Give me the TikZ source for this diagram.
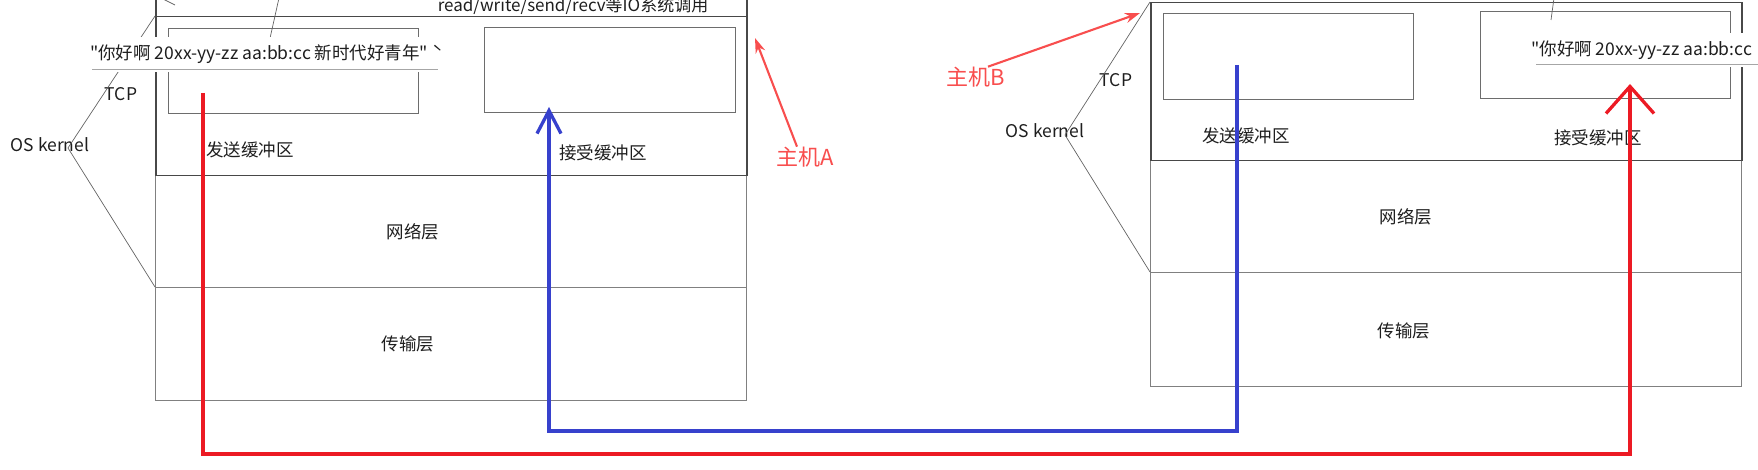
\documentclass[tikz,border=0pt]{standalone}
\usepackage{fontspec}
\newfontfamily\mainf{Noto Sans CJK SC}
\usetikzlibrary{arrows.meta}
\definecolor{lineRed}{RGB}{236,26,36}
\definecolor{lineBlue}{RGB}{55,65,205}
\definecolor{noteRed}{RGB}{248,78,78}
\definecolor{boxGray}{RGB}{128,128,128}
\definecolor{boxDark}{RGB}{72,72,72}
\definecolor{txt}{RGB}{30,30,30}
\begin{document}
\begin{tikzpicture}[x=1pt,y=-1pt,
  every node/.style={font=\mainf\fontsize{17.5}{20}\selectfont, inner sep=0pt, text=txt},
  layer/.style={draw=boxGray, line width=1pt, anchor=north west},
  kernel/.style={draw=boxDark, line width=1.5pt, anchor=north west},
  buffer/.style={draw=boxGray!85!black, line width=1.1pt, anchor=north west},
  thinline/.style={draw=boxDark!85, line width=0.7pt},
  flowRed/.style={draw=lineRed, line width=3.3pt},
  flowBlue/.style={draw=lineBlue, line width=3.3pt},
  note/.style={text=noteRed, font=\mainf\fontsize{22}{26}\selectfont},
  pointer/.style={draw=noteRed, line width=2.1pt, -{Stealth[length=15pt,width=10pt]}},
  quote/.style={fill=white, inner xsep=3pt, minimum height=35pt},
  quoteline/.style={draw=boxGray!70, line width=1.3pt}
]
\useasboundingbox (0,0) rectangle (1758,470);

% ---------- host A ----------
\node[layer, minimum width=591pt, minimum height=112pt] (nA) at (155,175) {};
\node[layer, minimum width=591pt, minimum height=113pt] (tA) at (155,287) {};
\node[kernel, minimum width=591pt, minimum height=40pt] (apiA) at (155,-24) {};
\node[kernel, minimum width=591pt, minimum height=159pt] (kA) at (155,16) {};
\node[buffer, minimum width=250pt, minimum height=85pt] (sbA) at (168,28) {};
\node[buffer, minimum width=251pt, minimum height=85pt] (rbA) at (484,27) {};

\node[font=\mainf\fontsize{17}{20}\selectfont] (apiTxt) at (573,6) {read/write/send/recv等IO系统调用};
\node (tcpA) at (121,94) {TCP};
\node (osA) at (50,145) {OS kernel};
\node (sendLblA) at (250,150) {发送缓冲区};
\node (recvLblA) at (603,153) {接受缓冲区};
\node (netLblA) at (413,232) {网络层};
\node (trLblA) at (408,344) {传输层};

\coordinate (apexA) at (68,148);
\draw[thinline] (kA.north west) -- (apexA) -- (tA.north west);
\coordinate (tickA1) at (163,-1);
\coordinate (tickA2) at (175,5);
\draw[thinline] (tickA1) -- (tickA2);

\node[quote, anchor=west] (qA) at (87,54.5) {"你好啊 20xx-yy-zz aa:bb:cc 新时代好青年" ˋ};
\draw[quoteline] ([xshift=5pt,yshift=2.5pt]qA.south west) -- ([xshift=-8pt,yshift=2.5pt]qA.south east);
\coordinate (calA) at (279,-2);
\draw[thinline] (calA) -- (qA);

% ---------- host B ----------
\node[layer, minimum width=591pt, minimum height=112pt] (nB) at (1150,160) {};
\node[layer, minimum width=591pt, minimum height=114pt] (tB) at (1150,272) {};
\node[kernel, minimum width=591pt, minimum height=158pt] (kB) at (1150,2) {};
\node[buffer, minimum width=250pt, minimum height=86pt] (sbB) at (1163,13) {};
\node[buffer, minimum width=250pt, minimum height=87pt] (rbB) at (1480,11) {};

\node (tcpB) at (1116,80) {TCP};
\node (osB) at (1045,131) {OS kernel};
\node (sendLblB) at (1246,136) {发送缓冲区};
\node (recvLblB) at (1598,138) {接受缓冲区};
\node (netLblB) at (1406,217) {网络层};
\node (trLblB) at (1404,331) {传输层};

\coordinate (apexB) at (1065,135);
\draw[thinline] (kB.north west) -- (apexB) -- (tB.north west);

\node[quote, anchor=west, minimum height=34pt, inner xsep=4pt] (qB) at (1527,50) {"你好啊 20xx-yy-zz aa:bb:cc};
\draw[quoteline] ([xshift=9pt,yshift=2.5pt]qB.south west) -- ([xshift=8pt,yshift=2.5pt]qB.south east);
\coordinate (calB1) at (1554,-2);
\coordinate (calB2) at (1551,20);
\draw[thinline] (calB1) -- (calB2);

% ---------- notes ----------
\node[note] (pA) at (805,157) {主机A};
\coordinate (tipA) at (755,38);
\draw[pointer] ([xshift=-8pt]pA.north) -- (tipA);
\node[note] (pB) at (976,77) {主机B};
\coordinate (tipB) at (1140,13);
\draw[pointer] ([xshift=12pt]pB.north) -- (tipB);

% ---------- data flows ----------
\coordinate (redStart) at (203,93);
\coordinate (redTip) at (1630,84);
\coordinate (redLow) at (0,454);
\draw[flowRed, -{Straight Barb[length=27pt,width=48pt]}]
  (redStart) -- (redStart |- redLow) -- (redTip |- redLow) -- (redTip);

\coordinate (blueTop) at (1237,65);
\coordinate (blueTip) at (549,107);
\coordinate (blueLow) at (0,431);
\draw[flowBlue, -{Straight Barb[length=23pt,width=24pt]}]
  (blueTop) -- (blueTop |- blueLow) -- (blueTip |- blueLow) -- (blueTip);
\end{tikzpicture}
\end{document}
